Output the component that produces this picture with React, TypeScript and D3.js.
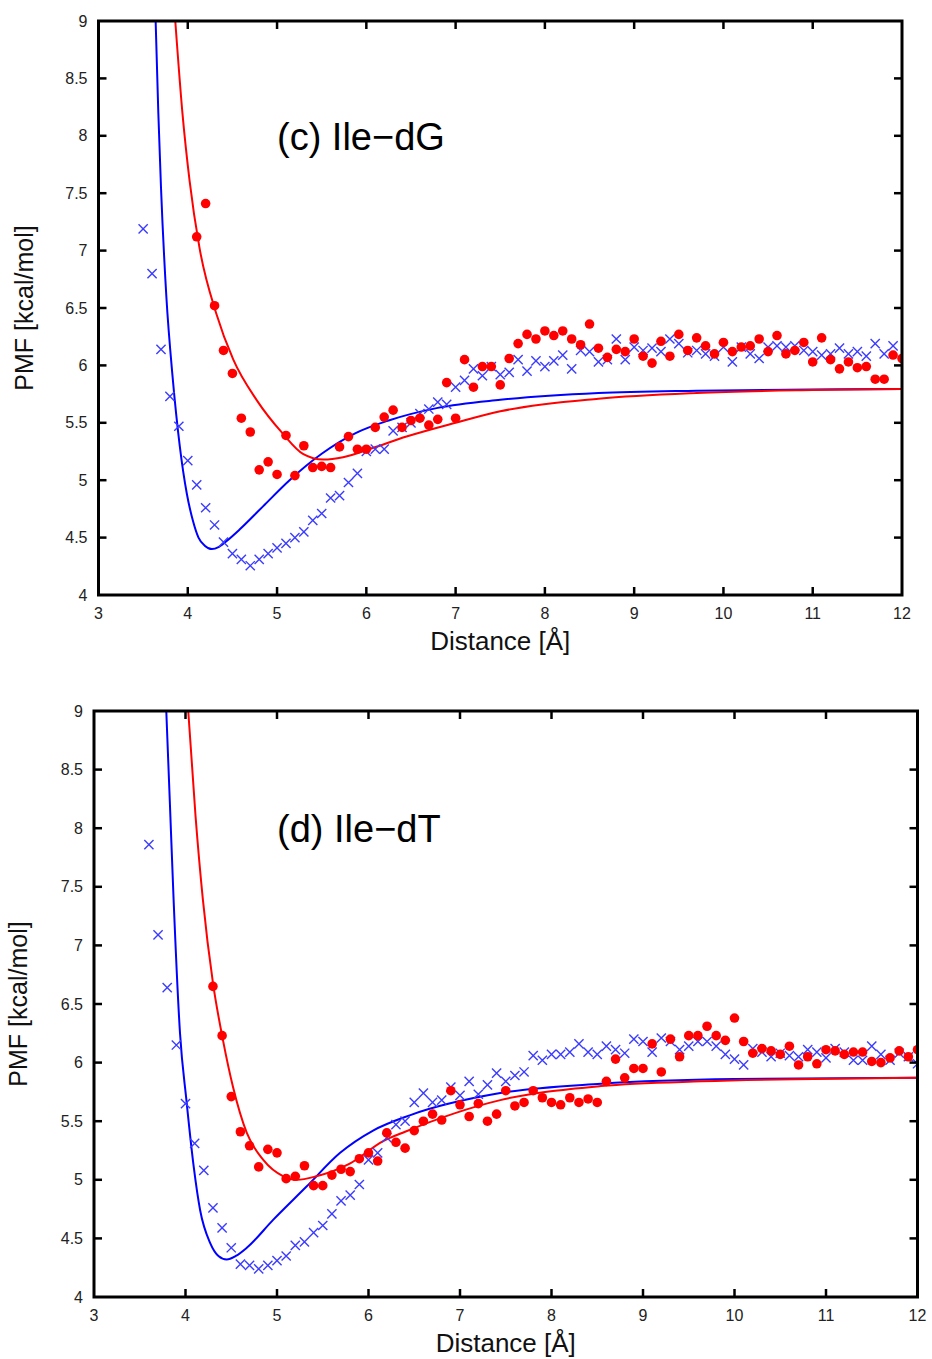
import React from "react";
import * as d3 from "d3";

// ---------- tick values ----------
const xTicks = [3, 4, 5, 6, 7, 8, 9, 10, 11, 12];
const yTicks = [4, 4.5, 5, 5.5, 6, 6.5, 7, 7.5, 8, 8.5, 9];
const STEP = 0.1;

// ---------- panel (c) Ile-dG ----------
const dgCrossStart = 3.5;
const dgCrossY = [
  7.19, 6.8, 6.14, 5.73, 5.47, 5.17, 4.96, 4.76, 4.61, 4.46, 4.36, 4.31, 4.255, 4.31, 4.36,
  4.41, 4.45, 4.5, 4.55, 4.65, 4.71, 4.845, 4.865, 4.98, 5.06, 5.25, 5.27, 5.27, 5.43, 5.46,
  5.5, 5.58, 5.62, 5.68, 5.66, 5.81, 5.87, 5.97, 5.91, 5.99, 5.92, 5.94, 6.05, 5.95, 6.04,
  5.99, 6.04, 6.09, 5.97, 6.13, 6.12, 6.03, 6.05, 6.23, 6.05, 6.16, 6.13, 6.15, 6.12, 6.23,
  6.19, 6.11, 6.13, 6.1, 6.08, 6.16, 6.03, 6.16, 6.1, 6.06, 6.16, 6.17, 6.16, 6.17, 6.13,
  6.12, 6.09, 6.1, 6.15, 6.1, 6.12, 6.08, 6.19, 6.1, 6.17,
];
const dgDotStart = 4.1;
const dgDotY = [
  7.12, 7.41, 6.52, 6.13, 5.93, 5.54, 5.42, 5.09, 5.16, 5.05, 5.39, 5.04, 5.3, 5.11, 5.12,
  5.11, 5.29, 5.38, 5.27, 5.27, 5.46, 5.55, 5.61, 5.46, 5.52, 5.54, 5.48, 5.53, 5.85, 5.54,
  6.05, 5.81, 5.99, 5.99, 5.83, 6.06, 6.19, 6.27, 6.23, 6.3, 6.26, 6.3, 6.23, 6.18, 6.36,
  6.15, 6.07, 6.14, 6.12, 6.23, 6.08, 6.02, 6.21, 6.08, 6.27, 6.13, 6.24, 6.17, 6.1, 6.2,
  6.12, 6.16, 6.17, 6.23, 6.12, 6.26, 6.1, 6.13, 6.2, 6.03, 6.24, 6.05, 5.97, 6.03, 5.98,
  5.99, 5.88, 5.88, 6.09, 6.06,
];
const dgBlueLine: [number, number][] = [
  [3.64, 9.0], [3.67, 8.2], [3.7, 7.55], [3.76, 6.6], [3.83, 5.9], [3.91, 5.3], [3.99, 4.88],
  [4.06, 4.64], [4.12, 4.5], [4.19, 4.43], [4.27, 4.4], [4.35, 4.42], [4.45, 4.48],
  [4.58, 4.57], [4.84, 4.77], [5.14, 5.0], [5.5, 5.23], [5.88, 5.41], [6.25, 5.52],
  [6.8, 5.63], [7.5, 5.7], [8.6, 5.76], [9.7, 5.78], [11, 5.79], [12, 5.795],
];
const dgRedLine: [number, number][] = [
  [3.86, 9.0], [3.94, 8.2], [4.02, 7.61], [4.13, 7.03], [4.32, 6.45], [4.51, 6.05],
  [4.77, 5.7], [5.06, 5.41], [5.29, 5.23], [5.52, 5.18], [5.74, 5.2], [6.07, 5.28],
  [6.45, 5.38], [7.0, 5.5], [7.5, 5.6], [8.6, 5.71], [9.7, 5.76], [11, 5.785], [12, 5.795],
];

// ---------- panel (d) Ile-dT ----------
const dtCrossStart = 3.6;
const dtCrossY = [
  7.86, 7.09, 6.64, 6.15, 5.65, 5.31, 5.08, 4.76, 4.59, 4.42, 4.28, 4.27, 4.24, 4.27, 4.31,
  4.35, 4.44, 4.47, 4.55, 4.61, 4.71, 4.82, 4.87, 4.96, 5.17, 5.23, 5.36, 5.47, 5.5,
  5.66, 5.74, 5.66, 5.68, 5.79, 5.72, 5.84, 5.73, 5.81, 5.91, 5.84, 5.89, 5.92, 6.06, 6.02,
  6.07, 6.07, 6.09, 6.16, 6.09, 6.07, 6.14, 6.11, 6.08, 6.2, 6.18, 6.09, 6.21, 6.18, 6.11,
  6.14, 6.18, 6.18, 6.14, 6.07, 6.03, 5.98, 6.12, 6.09, 6.05, 6.08, 6.06, 6.05, 6.11, 6.09,
  6.04, 6.12, 6.09, 6.02, 6.02, 6.14, 6.07, 6.02, 6.08, 6.05, 5.99,
];
const dtDotStart = 4.3;
const dtDotY = [
  6.65, 6.23, 5.71, 5.41, 5.29, 5.11, 5.26, 5.23, 5.01, 5.03, 5.12, 4.95, 4.95, 5.04, 5.09,
  5.07, 5.18, 5.23, 5.16, 5.4, 5.32, 5.27, 5.42, 5.5, 5.56, 5.51, 5.76, 5.64, 5.54, 5.65,
  5.5, 5.56, 5.76, 5.63, 5.66, 5.76, 5.7, 5.66, 5.64, 5.7, 5.66, 5.69, 5.66, 5.84, 6.03,
  5.87, 5.95, 5.95, 6.16, 5.92, 6.2, 6.05, 6.23, 6.23, 6.31, 6.23, 6.19, 6.38, 6.18, 6.08,
  6.12, 6.1, 6.07, 6.14, 5.98, 6.05, 5.99, 6.11, 6.1, 6.07, 6.09, 6.09, 6.01, 6.0, 6.04,
  6.1, 6.05, 6.11,
];
const dtBlueLine: [number, number][] = [
  [3.79, 9.0], [3.83, 8.2], [3.87, 7.39], [3.94, 6.25], [4.01, 5.68], [4.09, 5.11],
  [4.16, 4.74], [4.27, 4.46], [4.36, 4.35], [4.45, 4.32], [4.55, 4.35], [4.67, 4.42],
  [4.96, 4.66], [5.32, 4.94], [5.69, 5.23], [6.05, 5.42], [6.45, 5.55], [7.44, 5.74],
  [8.54, 5.82], [10, 5.86], [12, 5.87],
];
const dtRedLine: [number, number][] = [
  [4.03, 9.0], [4.11, 8.1], [4.19, 7.39], [4.3, 6.68], [4.41, 6.19], [4.52, 5.79],
  [4.67, 5.4], [4.85, 5.17], [5.07, 5.03], [5.22, 5.0], [5.43, 5.03], [5.8, 5.14],
  [6.16, 5.33], [6.4, 5.41], [7.44, 5.68], [8.54, 5.8], [9.64, 5.84], [12, 5.87],
];

const FONT = "'Liberation Sans', Arial, Helvetica, sans-serif";
const BLUE_LINE = "#0000ff";
const BLUE_MARK = "#3c3cff";
const RED = "#ff0000";

function toPoints(start: number, ys: number[]): [number, number][] {
  return ys.map((y, i) => [Math.round((start + i * STEP) * 100) / 100, y]);
}

type PanelProps = {
  id: string;
  left: number;
  right: number;
  top: number;
  bottom: number;
  title: string;
  titleX: number;
  titleY: number;
  yLabelX: number;
  xLabelY: number;
  crosses: [number, number][];
  dots: [number, number][];
  blueLine: [number, number][];
  redLine: [number, number][];
};

function Panel(p: PanelProps) {
  const x = d3.scaleLinear().domain([3, 12]).range([p.left, p.right]);
  const y = d3.scaleLinear().domain([4, 9]).range([p.bottom, p.top]);
  const line = d3
    .line<[number, number]>()
    .x((d) => x(d[0]))
    .y((d) => y(d[1]))
    .curve(d3.curveMonotoneX);
  const tick = 8;
  const cs = 4.6;
  const clipId = `clip-${p.id}`;
  return (
    <g>
      <defs>
        <clipPath id={clipId}>
          <rect x={p.left} y={p.top} width={p.right - p.left} height={p.bottom - p.top} />
        </clipPath>
      </defs>
      <g clipPath={`url(#${clipId})`}>
        <path d={line(p.blueLine) || ""} fill="none" stroke={BLUE_LINE} strokeWidth={2} />
        <path d={line(p.redLine) || ""} fill="none" stroke={RED} strokeWidth={2} />
        {p.crosses.map((d, i) => {
          const cx = x(d[0]);
          const cy = y(d[1]);
          return (
            <path
              key={"c" + i}
              d={`M${cx - cs},${cy - cs}L${cx + cs},${cy + cs}M${cx - cs},${cy + cs}L${cx + cs},${cy - cs}`}
              stroke={BLUE_MARK}
              strokeWidth={1.4}
              fill="none"
            />
          );
        })}
        {p.dots.map((d, i) => (
          <circle key={"d" + i} cx={x(d[0])} cy={y(d[1])} r={4.8} fill={RED} />
        ))}
      </g>
      {xTicks.slice(1, -1).map((t) => (
        <g key={"xt" + t}>
          <line x1={x(t)} x2={x(t)} y1={p.bottom} y2={p.bottom - tick} stroke="#000" strokeWidth={2.5} />
          <line x1={x(t)} x2={x(t)} y1={p.top} y2={p.top + tick} stroke="#000" strokeWidth={2.5} />
        </g>
      ))}
      {yTicks.slice(1, -1).map((t) => (
        <g key={"yt" + t}>
          <line x1={p.left} x2={p.left + tick} y1={y(t)} y2={y(t)} stroke="#000" strokeWidth={2.5} />
          <line x1={p.right} x2={p.right - tick} y1={y(t)} y2={y(t)} stroke="#000" strokeWidth={2.5} />
        </g>
      ))}
      <rect
        x={p.left}
        y={p.top}
        width={p.right - p.left}
        height={p.bottom - p.top}
        fill="none"
        stroke="#000"
        strokeWidth={3}
      />
      {xTicks.map((t) => (
        <text key={"xl" + t} x={x(t)} y={p.bottom + 24} textAnchor="middle" fontSize={16} fontFamily={FONT} fill="#222">
          {t}
        </text>
      ))}
      {yTicks.map((t) => (
        <text key={"yl" + t} x={p.left - 11} y={y(t)} dy="0.35em" textAnchor="end" fontSize={16} fontFamily={FONT} fill="#222">
          {t}
        </text>
      ))}
      <text x={(p.left + p.right) / 2} y={p.xLabelY} textAnchor="middle" fontSize={26} fontFamily={FONT} fill="#111">
        Distance [Å]
      </text>
      <text
        transform={`translate(${p.yLabelX},${(p.top + p.bottom) / 2}) rotate(-90)`}
        textAnchor="middle"
        fontSize={25}
        fontFamily={FONT}
        fill="#111"
      >
        PMF [kcal/mol]
      </text>
      <text x={p.titleX} y={p.titleY} fontSize={38} fontFamily={FONT} fill="#000">
        {p.title}
      </text>
    </g>
  );
}

export default function App() {
  return (
    <svg
      width={932}
      height={1359}
      style={{ position: "absolute", left: 0, top: 0, background: "#fff" }}
    >
      <rect width={932} height={1359} fill="#fff" />
      <Panel
        id="c"
        left={98.5}
        right={902}
        top={21}
        bottom={595}
        title="(c) Ile−dG"
        titleX={277}
        titleY={150}
        yLabelX={33}
        xLabelY={650}
        crosses={toPoints(dgCrossStart, dgCrossY)}
        dots={toPoints(dgDotStart, dgDotY)}
        blueLine={dgBlueLine}
        redLine={dgRedLine}
      />
      <Panel
        id="d"
        left={94}
        right={917.5}
        top={711}
        bottom={1297}
        title="(d) Ile−dT"
        titleX={277}
        titleY={842}
        yLabelX={27}
        xLabelY={1352}
        crosses={toPoints(dtCrossStart, dtCrossY)}
        dots={toPoints(dtDotStart, dtDotY)}
        blueLine={dtBlueLine}
        redLine={dtRedLine}
      />
    </svg>
  );
}
